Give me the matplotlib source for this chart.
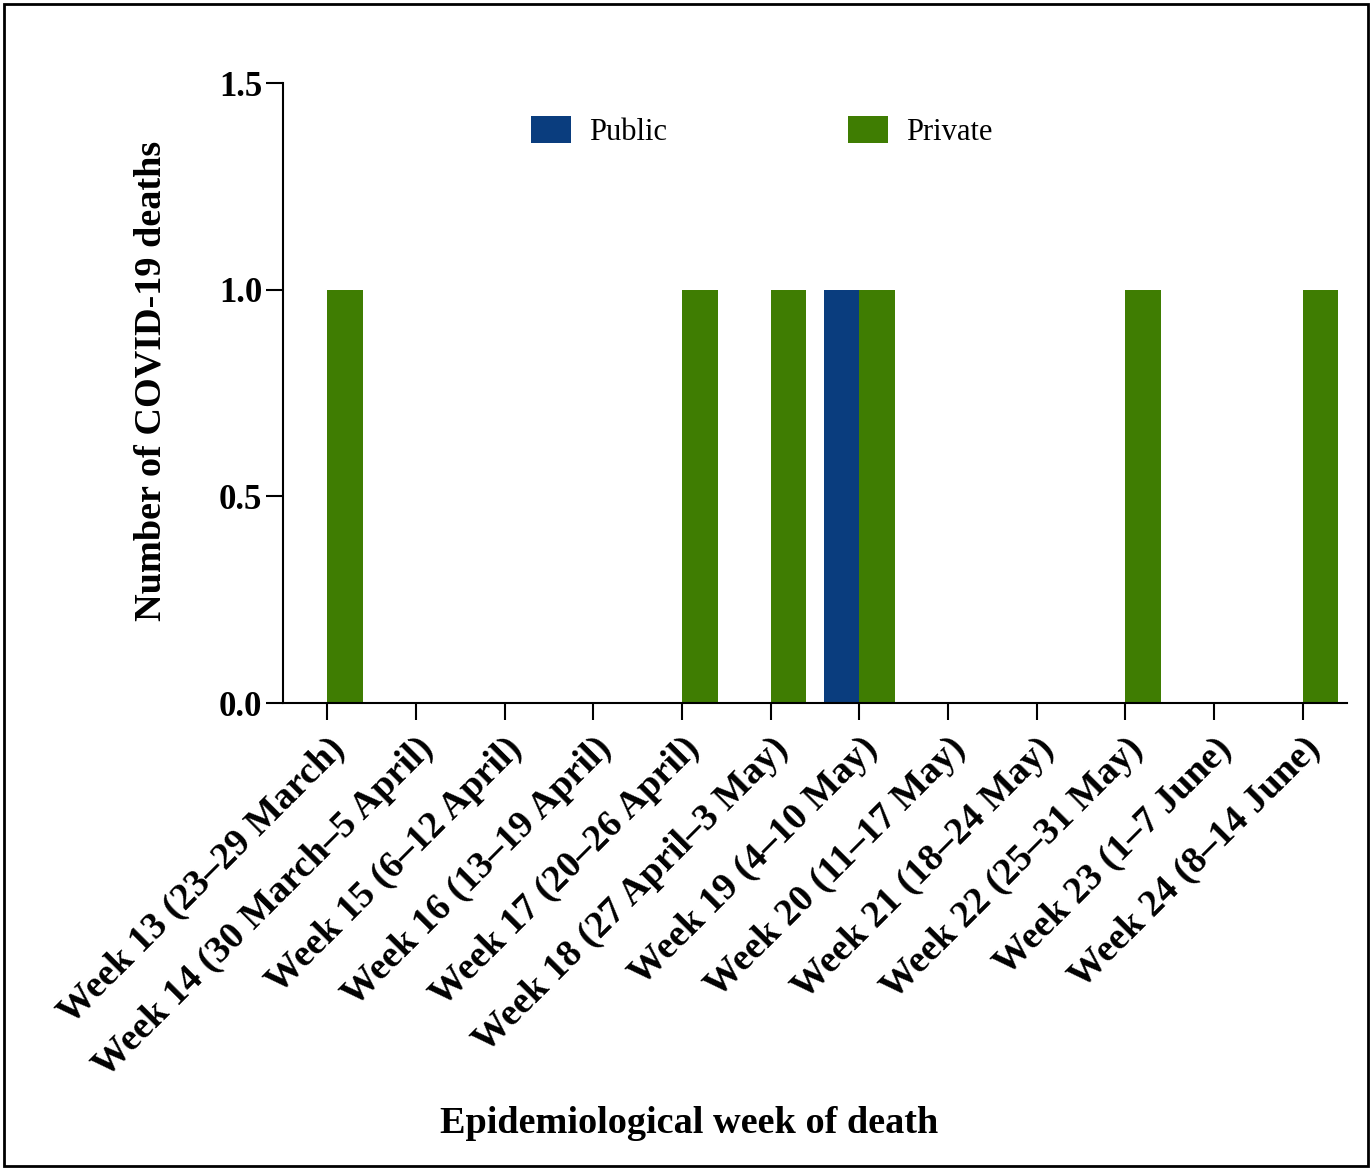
import numpy as np
import matplotlib.pyplot as plt
from matplotlib.patches import Rectangle

# weekly COVID-19 deaths by sector
weeks = ["Week 13 (23\u201329 March)", "Week 14 (30 March\u20135 April)",
         "Week 15 (6\u201312 April)", "Week 16 (13\u201319 April)",
         "Week 17 (20\u201326 April)", "Week 18 (27 April\u20133 May)",
         "Week 19 (4\u201310 May)", "Week 20 (11\u201317 May)",
         "Week 21 (18\u201324 May)", "Week 22 (25\u201331 May)",
         "Week 23 (1\u20137 June)", "Week 24 (8\u201314 June)"]
public = [0, 0, 0, 0, 0, 0, 1, 0, 0, 0, 0, 0]
private = [1, 0, 0, 0, 1, 1, 1, 0, 0, 1, 0, 1]

plt.rcParams['font.family'] = ['Liberation Serif', 'DejaVu Serif']

fig = plt.figure(figsize=(13.72, 11.70), dpi=100)
ax = fig.add_axes([0.2063, 0.3991, 0.7755, 0.5299])

x = np.arange(len(weeks))
w = 0.4
ax.bar(x - w/2, public, width=w, color="#0a3d7e", label="Public")
ax.bar(x + w/2, private, width=w, color="#3f7d02", label="Private")

ax.set_xlim(-0.5, len(weeks) - 0.5)
ax.set_ylim(0, 1.5)
ax.set_yticks([0.0, 0.5, 1.0, 1.5])
ax.set_yticklabels(["0.0", "0.5", "1.0", "1.5"], fontsize=25, fontweight='bold')
ax.set_xticks(x)
ax.set_xticklabels(weeks, rotation=45, ha='right', rotation_mode='anchor',
                   fontsize=27.5, fontweight='bold')
ax.tick_params(axis='both', direction='out', length=12, width=1.5)
ax.tick_params(axis='y', pad=3)
ax.tick_params(axis='x', pad=8)

for s in ['top', 'right']:
    ax.spines[s].set_visible(False)
for s in ['left', 'bottom']:
    ax.spines[s].set_linewidth(1.5)

ax.set_ylabel("Number of COVID-19 deaths", fontsize=27.5, fontweight='bold')
ax.yaxis.set_label_coords(-0.108, 0.52)
fig.text(0.502, 0.032, "Epidemiological week of death", ha='center',
         fontsize=27.5, fontweight='bold')

ax.legend(loc='center', bbox_to_anchor=(0.45, 0.922), ncol=2, frameon=False,
          fontsize=22, columnspacing=5.9, handlelength=1.3, handleheight=1.0,
          handletextpad=0.62)

fig.patches.append(Rectangle((0.003, 0.003), 0.994, 0.994, transform=fig.transFigure,
                             fill=False, edgecolor='black', linewidth=2))

plt.savefig("out.png", dpi=100)
